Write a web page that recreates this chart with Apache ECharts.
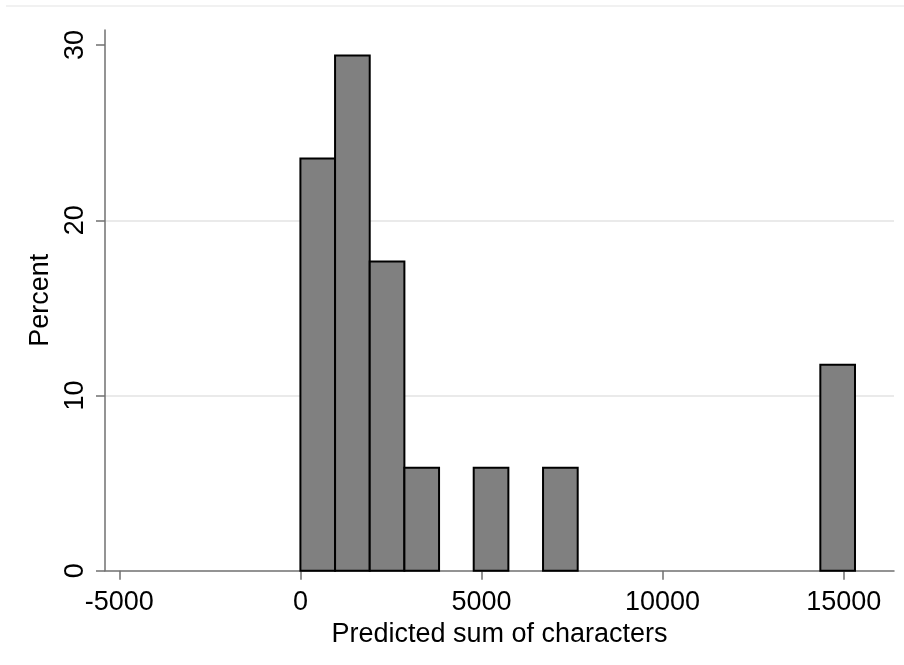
<!DOCTYPE html>
<html>
<head>
<meta charset="utf-8">
<script src="https://cdn.jsdelivr.net/npm/echarts@6/dist/echarts.min.js"></script>
<style>html,body{margin:0;padding:0;background:#fff}#c{width:904px;height:665px}</style>
</head>
<body>
<div id="c"></div>
<script>
// Histogram bins (lower / upper edges, data units) and percent heights
const binLower = [0, 957, 1914, 2871, 4785, 6699, 14355];
const binUpper = [957, 1914, 2871, 3828, 5742, 7656, 15312];
const percent = [23.53, 29.41, 17.65, 5.88, 5.88, 5.88, 11.76];
const xTicks = [-5000, 0, 5000, 10000, 15000];
const yTicks = [0, 10, 20, 30];
const xTitle = 'Predicted sum of characters';
const yTitle = 'Percent';

const data = binLower.map((lo, i) => [lo, binUpper[i], percent[i]]);
const FONT = '"Liberation Sans", Arial, sans-serif';
const plain = v => String(v);

const chart = echarts.init(document.getElementById('c'), null, {renderer: 'canvas'});
chart.setOption({
  animation: false,
  backgroundColor: '#fff',
  grid: {left: 105, right: 10, top: 30, bottom: 94.3, containLabel: false},
  xAxis: {
    type: 'value', min: -5395, max: 16389,
    name: xTitle, nameLocation: 'middle', nameGap: 43,
    nameTextStyle: {fontFamily: FONT, fontSize: 27, color: '#000'},
    axisLine: {show: true, onZero: false, lineStyle: {color: '#707070', width: 1.5}},
    axisTick: {show: true, length: 9, customValues: xTicks, lineStyle: {color: '#707070', width: 1.5}},
    axisLabel: {customValues: xTicks, formatter: plain, margin: 18, fontFamily: FONT, fontSize: 27, color: '#000'},
    splitLine: {show: false}
  },
  yAxis: {
    type: 'value', min: 0, max: 30.86,
    name: yTitle, nameLocation: 'middle', nameGap: 48, nameRotate: 90,
    nameTextStyle: {fontFamily: FONT, fontSize: 27, color: '#000'},
    axisLine: {show: true, onZero: false, lineStyle: {color: '#707070', width: 1.5}},
    axisTick: {show: true, length: 9, customValues: yTicks, lineStyle: {color: '#707070', width: 1.5}},
    axisLabel: {customValues: yTicks, formatter: plain, rotate: 90, margin: 16, fontFamily: FONT, fontSize: 27, color: '#000'},
    splitLine: {show: true, showMinLine: false, showMaxLine: false, lineStyle: {color: '#e3e3e3', width: 1.5}}
  },
  graphic: [{
    type: 'line', shape: {x1: 6, y1: 6, x2: 904, y2: 6},
    style: {stroke: '#ececec', lineWidth: 1.5}, silent: true
  }],
  series: [{
    type: 'custom',
    data: data,
    encode: {x: [0, 1], y: 2},
    renderItem: function (params, api) {
      const p0 = api.coord([api.value(0), 0]);
      const p1 = api.coord([api.value(1), api.value(2)]);
      return {
        type: 'rect',
        shape: {x: p0[0], y: p1[1], width: p1[0] - p0[0], height: p0[1] - p1[1]},
        style: {fill: '#808080', stroke: '#000', lineWidth: 2}
      };
    }
  }]
});
</script>
</body>
</html>
